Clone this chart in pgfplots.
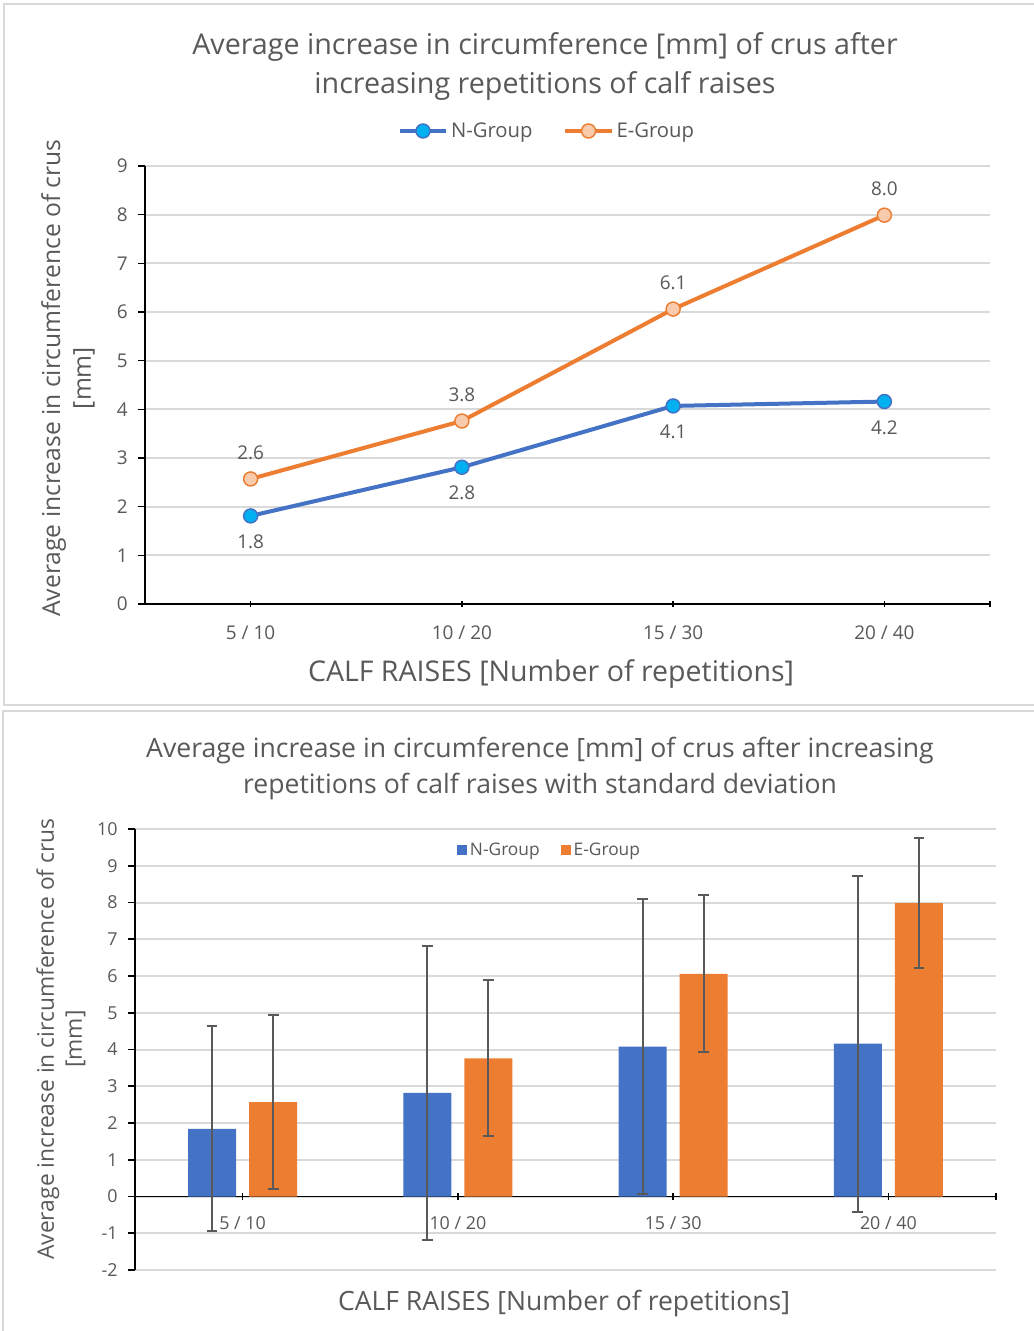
\documentclass[border=0pt]{standalone}
\usepackage{pgfplots}
\pgfplotsset{compat=1.18}
\usepackage{fontspec}
\setmainfont{Open Sans}

\definecolor{txt}{HTML}{595959}
\definecolor{gridc}{HTML}{D9D9D9}
\definecolor{framec}{HTML}{D9D9D9}
\definecolor{nblue}{HTML}{4472C4}
\definecolor{eorange}{HTML}{ED7D31}
\definecolor{ncyan}{HTML}{00B0F0}
\definecolor{epeach}{HTML}{F8CBAD}
\definecolor{ebar}{HTML}{595959}

\pgfplotsset{
  sdbar/.style={forget plot, draw=none, mark=none,
    error bars/.cd, y dir=both, y explicit,
    error bar style={draw=ebar, line width=1.5pt},
    error mark options={rotate=90, mark size=4pt, line width=1.5pt, draw=ebar}},
}

\begin{document}
\begin{tikzpicture}[x=0.75pt,y=-0.75pt]
\path[use as bounding box] (0,0) rectangle (1033,1331);
\fill[white] (0,0) rectangle (1033,1331);
% panel frames
\draw[framec, line width=1.5pt] (4,4) rectangle (1050,705);
\draw[framec, line width=1.5pt] (3,711) rectangle (1050,1345);

% titles
\node[align=center, text=txt, font=\fontsize{21.5}{29}\selectfont] at (545,66.5)
  {Average increase in circumference [mm] of crus after\\increasing repetitions of calf raises};
\node[align=center, text=txt, font=\fontsize{19.95}{27}\selectfont] at (540,769)
  {Average increase in circumference [mm] of crus after increasing\\repetitions of calf raises with standard deviation};

% axis titles
\node[text=txt, font=\fontsize{21.4}{26}\selectfont] at (551,674) {CALF RAISES [Number of repetitions]};
\node[text=txt, font=\fontsize{19.9}{24}\selectfont] at (564,1304) {CALF RAISES [Number of repetitions]};
\node[rotate=90, align=center, text=txt, font=\fontsize{18.5}{23}\selectfont] at (68,378)
  {Average increase in circumference of crus\\{[mm]}};
\node[rotate=90, align=center, text=txt, font=\fontsize{17.1}{21}\selectfont] at (61,1039)
  {Average increase in circumference of crus\\{[mm]}};

% ---------- line chart ----------
\begin{axis}[
  at={(108.75pt,-453pt)}, anchor=south west,
  scale only axis, width=633.75pt, height=328.5pt,
  xmin=0.5, xmax=4.5, ymin=0, ymax=9,
  axis lines*=left,
  axis line style={black, line width=1.2pt},
  xtick={1,2,3,4}, xticklabels={5 / 10,10 / 20,15 / 30,20 / 40},
  extra x ticks={4.5}, extra x tick labels={},
  ytick={0,1,...,9},
  ymajorgrids, grid style={gridc, line width=1.5pt},
  xtick align=center, ytick align=outside,
  major tick length=5pt,
  tick style={black, line width=1.2pt},
  tick label style={font=\fontsize{14.2}{17}\selectfont, text=txt},
  xticklabel style={yshift=-10.5pt},
  yticklabel style={xshift=-4.5pt},
  /pgf/number format/assume math mode=true,
  legend columns=2,
  legend style={at={(0.476,1.08)}, anchor=center, draw=none, fill=none,
    font=\fontsize{15.2}{18}\selectfont, text=txt, inner sep=0pt,
    /tikz/every even column/.append style={column sep=21pt}},
  legend image code/.code={\draw[mark repeat=2,mark phase=2,#1]
    plot coordinates {(0pt,0pt) (17.5pt,0pt) (35pt,0pt)};},
  nodes near coords={\pgfmathprintnumber[fixed,fixed zerofill,precision=1]{\pgfplotspointmeta}},
  every node near coord/.append style={font=\fontsize{14.2}{17}\selectfont, text=txt, anchor=center},
]
\addplot[color=nblue, line width=3pt, mark=*, mark size=5.25pt,
  mark options={fill=ncyan, draw=nblue, line width=1.1pt},
  every node near coord/.append style={yshift=-19.5pt}]
  coordinates {(1,1.81) (2,2.81) (3,4.07) (4,4.16)};
\addlegendentry{N-Group}
\addplot[color=eorange, line width=3pt, mark=*, mark size=5.25pt,
  mark options={fill=epeach, draw=eorange, line width=1.1pt},
  every node near coord/.append style={yshift=19.5pt}]
  coordinates {(1,2.57) (2,3.76) (3,6.06) (4,7.99)};
\addlegendentry{E-Group}
\end{axis}

% ---------- bar chart with standard deviation ----------
\begin{axis}[
  at={(101.25pt,-952.5pt)}, anchor=south west,
  scale only axis, width=645.75pt, height=330.75pt,
  xmin=0.5, xmax=4.5, ymin=-2, ymax=10,
  axis y line*=left, axis x line*=middle,
  hide obscured x ticks=false, hide obscured y ticks=false,
  axis line style={black, line width=1.2pt},
  xtick={1,2,3,4}, xticklabels={5 / 10,10 / 20,15 / 30,20 / 40},
  extra x ticks={4.5}, extra x tick labels={},
  ytick={-2,-1,...,10},
  ymajorgrids, grid style={gridc, line width=1.5pt},
  xtick align=center, ytick align=outside,
  major tick length=5pt,
  tick style={black, line width=1.2pt},
  tick label style={font=\fontsize{13.4}{16}\selectfont, text=txt},
  xticklabel style={yshift=-9pt},
  yticklabel style={xshift=-4.5pt},
  /pgf/number format/assume math mode=true,
  legend columns=2,
  legend style={at={(0.482,0.952)}, anchor=center, draw=none, fill=none,
    font=\fontsize{13}{16}\selectfont, text=txt, inner sep=0pt,
    /tikz/every even column/.append style={column sep=14pt}},
]
\addplot[ybar, bar width=0.223, bar shift=-0.142, fill=nblue, draw=none,
  legend image code/.code={\fill[nblue] (0pt,-3.75pt) rectangle (7.5pt,3.75pt);}]
  coordinates {(1,1.84) (2,2.82) (3,4.08) (4,4.16)};
\addlegendentry{N-Group}
\addplot[ybar, bar width=0.223, bar shift=0.142, fill=eorange, draw=none,
  legend image code/.code={\fill[eorange] (0pt,-3.75pt) rectangle (7.5pt,3.75pt);}]
  coordinates {(1,2.57) (2,3.76) (3,6.06) (4,7.98)};
\addlegendentry{E-Group}
% standard deviations, at the centres of the bars
\addplot[sdbar] coordinates {(0.858,1.84) +- (0,2.79) (1.858,2.82) +- (0,3.99)
  (2.858,4.08) +- (0,4.01) (3.858,4.16) +- (0,4.57)};
\addplot[sdbar] coordinates {(1.142,2.57) +- (0,2.36) (2.142,3.76) +- (0,2.12)
  (3.142,6.06) +- (0,2.14) (4.142,7.98) +- (0,1.77)};
\end{axis}
\end{tikzpicture}
\end{document}
